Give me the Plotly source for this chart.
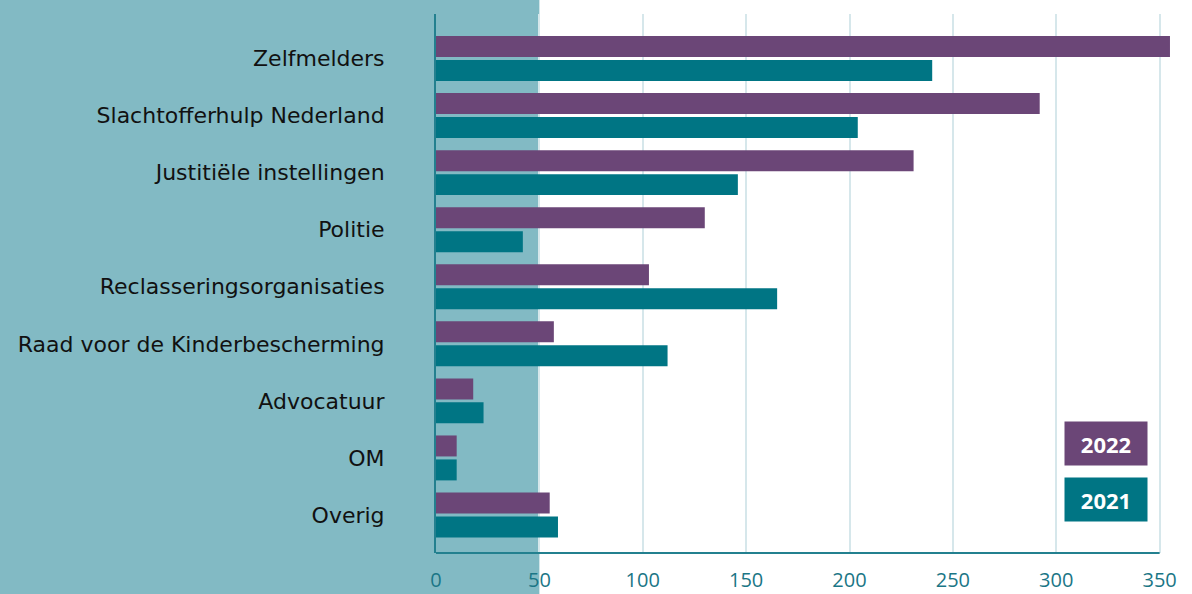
import plotly.graph_objects as go

categories = ["Zelfmelders", "Slachtofferhulp Nederland", "Justitiële instellingen", "Politie",
              "Reclasseringsorganisaties", "Raad voor de Kinderbescherming", "Advocatuur", "OM", "Overig"]
values_2022 = [355, 292, 231, 130, 103, 57, 18, 10, 55]
values_2021 = [240, 204, 146, 42, 165, 112, 23, 10, 59]
series_names = ["2022", "2021"]
x_ticks = [0, 50, 100, 150, 200, 250, 300, 350]

PURPLE = "#6b4677"
TEAL = "#007584"
BG_TEAL = "#82bac4"
AXIS = "#23808f"
TICK = "#1b7686"
GRID = "#d6e7eb"
FONT = "Open Sans"
LABEL_FONT = "DejaVu Sans"

W, H = 1192, 594
ML, MR, MT, MB = 436, 21, 14, 41
PW, PH = W - ML - MR, H - MT - MB
XMAX = 355.5

def px_x(px):
    return (px - ML) / PW

def px_y(py):
    return 1 - (py - MT) / PH

fig = go.Figure()
fig.add_trace(go.Bar(y=categories, x=values_2022, name=series_names[0], orientation="h",
                     marker=dict(color=PURPLE, line=dict(width=0))))
fig.add_trace(go.Bar(y=categories, x=values_2021, name=series_names[1], orientation="h",
                     marker=dict(color=TEAL, line=dict(width=0))))

# teal background panel (left of x=50)
fig.add_shape(type="rect", xref="paper", yref="paper",
              x0=px_x(0), x1=50 / XMAX, y0=px_y(H), y1=px_y(0),
              fillcolor=BG_TEAL, line=dict(width=0), layer="below")
# bottom axis line 0..350
fig.add_shape(type="line", xref="x", yref="paper", x0=0, x1=350, y0=0, y1=0,
              line=dict(color=AXIS, width=2), layer="above")

# legend boxes
for i, (name, col) in enumerate(zip(series_names, [PURPLE, TEAL])):
    cy = 443.5 + i * 55.5
    fig.add_annotation(xref="paper", yref="paper", x=px_x(1106), y=px_y(cy),
                       text="<b>%s</b>" % name, showarrow=False,
                       width=82, height=43, bgcolor=col, borderpad=0,
                       font=dict(color="white", size=22, family=FONT),
                       xanchor="center", yanchor="middle")

fig.update_layout(
    width=W, height=H,
    margin=dict(l=ML, r=MR, t=MT, b=MB, pad=0, autoexpand=False),
    barmode="group", bargap=0.16, bargroupgap=0.125,
    paper_bgcolor="white", plot_bgcolor="rgba(0,0,0,0)",
    showlegend=False,
    font=dict(family=FONT, color="#111111"),
    xaxis=dict(range=[0, XMAX], tickvals=x_ticks, ticktext=[str(t) for t in x_ticks],
               automargin=False,
               showgrid=True, gridcolor=GRID, gridwidth=2, zeroline=False, showline=False,
               ticks="outside", ticklen=9, tickcolor="rgba(0,0,0,0)",
               tickfont=dict(size=20, color=TICK, family=FONT)),
    yaxis=dict(categoryorder="array", categoryarray=categories, range=[8.666, -0.78],
               automargin=False,
               showgrid=False, zeroline=False, showline=True, linecolor=AXIS, linewidth=2,
               ticks="outside", ticklen=45, tickcolor="rgba(0,0,0,0)",
               tickfont=dict(size=22, color="#111111", family=LABEL_FONT)),
)

fig.write_html("out.html", config={"displayModeBar": False},
               post_script="document.body.style.margin='0';")
